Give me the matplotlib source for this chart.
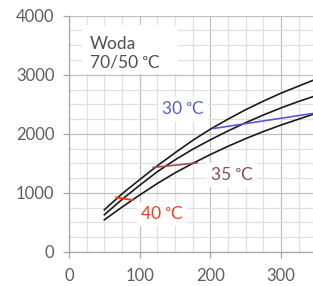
import matplotlib
matplotlib.use('Agg')
import matplotlib.pyplot as plt
from matplotlib.ticker import MultipleLocator
from matplotlib.patches import Rectangle

plt.rcParams['font.family'] = ['Lato', 'DejaVu Sans']

# radiator curves (length -> output)
x_len = [50, 75, 100, 125, 150, 175, 200, 225, 250, 275, 300, 325, 350]
curve_top = [715, 985, 1225, 1460, 1680, 1890, 2080, 2250, 2410, 2555, 2690, 2810, 2930]
curve_mid = [630, 890, 1130, 1360, 1560, 1740, 1900, 2050, 2190, 2320, 2440, 2550, 2650]
curve_bot = [545, 760, 965, 1160, 1340, 1500, 1650, 1790, 1920, 2040, 2150, 2250, 2350]

# room temperature lines
t30_x = [204, 350]
t30_y = [2090, 2355]
t35_x = [119, 181]
t35_y = [1431, 1508]
t40_x = [67, 90]
t40_y = [922, 880]

x_ticks = [0, 100, 200, 300]
y_ticks = [0, 1000, 2000, 3000, 4000]

fig = plt.figure(figsize=(3.13, 2.86), dpi=100)
ax = fig.add_axes([0.2204, 0.1189, 0.7796, 0.8262])

ax.set_xlim(0, 345)
ax.set_ylim(0, 4000)
ax.set_xticks(x_ticks)
ax.set_yticks(y_ticks)
ax.xaxis.set_minor_locator(MultipleLocator(25))
ax.yaxis.set_minor_locator(MultipleLocator(250))
ax.grid(which='major', color='#c0c0c0', linewidth=0.9, zorder=0)
ax.grid(which='minor', color='#e0e0e0', linewidth=0.9, zorder=0)
ax.set_axisbelow(True)

for s in ['top', 'right']:
    ax.spines[s].set_visible(False)
for s in ['left', 'bottom']:
    ax.spines[s].set_color('#a6a6a6')
    ax.spines[s].set_linewidth(0.9)
ax.tick_params(which='major', length=4.5, width=0.9, color='#a6a6a6',
               labelcolor='#5f5f5f', labelsize=12)
ax.tick_params(axis='x', which='major', pad=7)
ax.tick_params(axis='y', which='major', pad=6)
ax.tick_params(which='minor', length=0)

# white box behind the medium label
ax.add_patch(Rectangle((18, 3015), 136, 820, facecolor='white', edgecolor='none', zorder=1))

for yy in [curve_top, curve_mid, curve_bot]:
    ax.plot(x_len, yy, color='#1a1a1a', linewidth=1.2, zorder=3)

ax.plot(t30_x, t30_y, color='#5a5ad2', linewidth=1.2, zorder=4)
ax.plot(t35_x, t35_y, color='#a05050', linewidth=1.2, zorder=4)
ax.plot(t40_x, t40_y, color='#ff3a10', linewidth=1.4, zorder=4)

ax.text(30, 3360, 'Woda\n70/50 \u1d52C', fontsize=12.5, color='#505050',
        ha='left', va='center', linespacing=1.2, zorder=5)

box = dict(facecolor='white', edgecolor='none', boxstyle='square,pad=0.25')
ax.text(161, 2416, '30 \u1d52C', fontsize=12.5, color='#5563c0', ha='center', va='center',
        bbox=box, zorder=5)
ax.text(230, 1301, '35 \u1d52C', fontsize=12.5, color='#8c4d4d', ha='center', va='center',
        bbox=box, zorder=5)
ax.text(131.5, 642, '40 \u1d52C', fontsize=12.5, color='#f5401e', ha='center', va='center',
        bbox=box, zorder=5)

fig.savefig('out.png', dpi=100)
